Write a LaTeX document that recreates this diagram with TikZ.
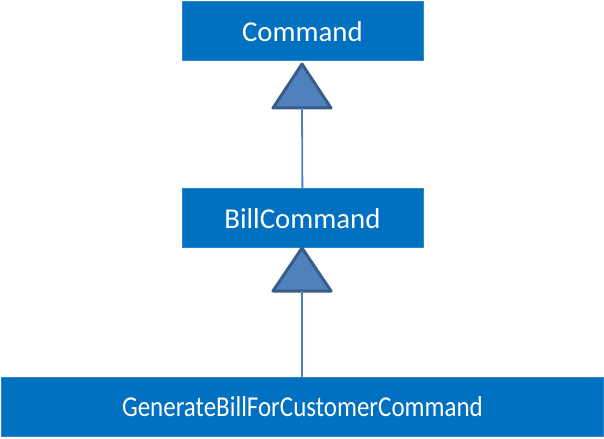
\documentclass[tikz,border=0pt]{standalone}
\usepackage{fontspec}
\usepackage{graphicx}
\setmainfont{Carlito}
\definecolor{boxblue}{HTML}{0070C0}
\definecolor{boxedge}{HTML}{2F86CC}
\definecolor{trifill}{HTML}{4F81BD}
\definecolor{triedge}{HTML}{385D8A}
\begin{document}
\begin{tikzpicture}[x=1bp,y=-1bp,
  classbox/.style={draw=boxedge,line width=0.8bp,fill=boxblue,text=white,anchor=north west,inner sep=0pt,
    font=\fontsize{28.9}{34}\selectfont},
  inherit/.style={draw=triedge,fill=trifill,line width=3bp,line join=round},
  link/.style={draw=trifill,line width=1.8bp}]
\useasboundingbox (0,0) rectangle (604,439);
\node[classbox,minimum width=241bp,minimum height=58.5bp] (cmd) at (181.5,1.5) {Command};
\node[classbox,minimum width=241bp,minimum height=58.5bp] (bill) at (181.5,188.5) {BillCommand};
\node[classbox,minimum width=602bp,minimum height=58.5bp] (gen) at (1,377) {\scalebox{0.867}[1]{GenerateBillForCustomerCommand}};
% triangle 1
\coordinate (t1apex) at (302,64);
\coordinate (t1base) at (302,108);
\path[inherit] (t1apex) -- (273,108) -- (331,108) -- cycle;
\draw[link] (t1base) -- (bill.north);
% triangle 2
\coordinate (t2apex) at (302,248);
\coordinate (t2base) at (302,291);
\path[inherit] (t2apex) -- (273,291) -- (331,291) -- cycle;
\draw[link] (t2base) -- (gen.north -| t2base);
\end{tikzpicture}
\end{document}
